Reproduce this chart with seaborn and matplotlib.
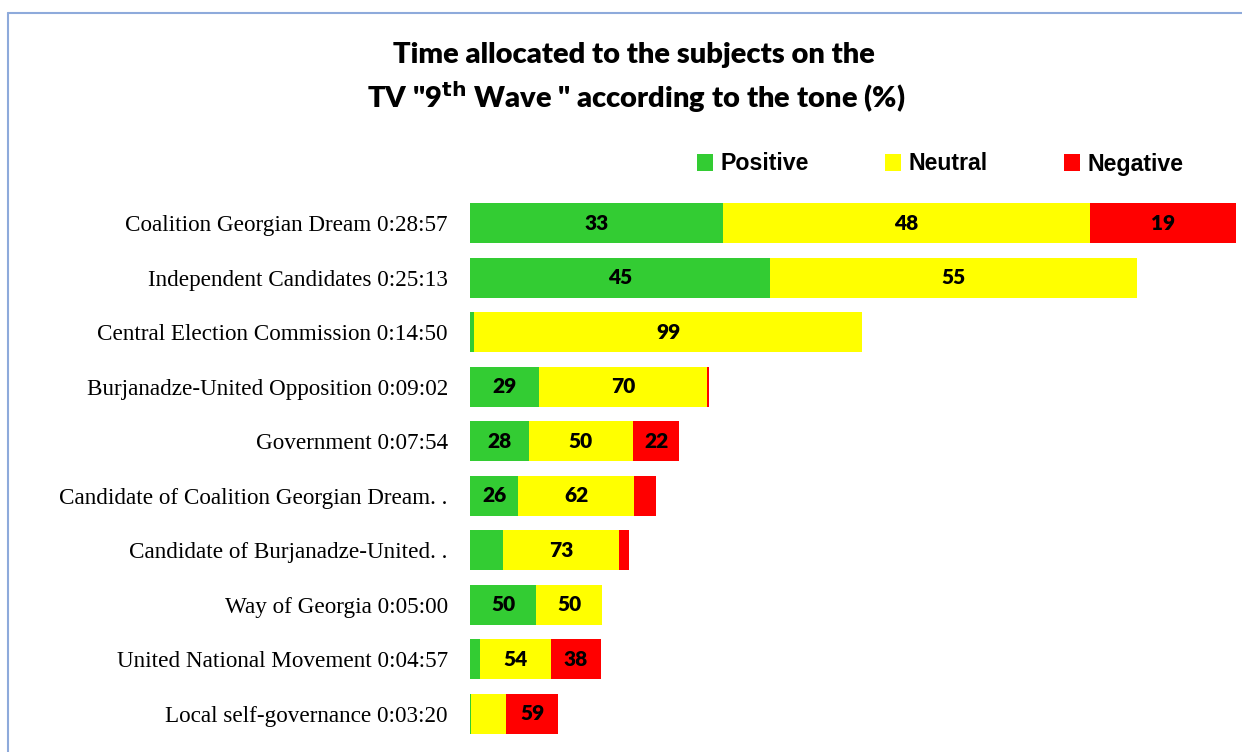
import numpy as np
import pandas as pd
import matplotlib.pyplot as plt
import seaborn as sns
from matplotlib.lines import Line2D
from matplotlib.patches import Patch

# ── Data ────────────────────────────────────────────────────────────────────

subjects = [
    'Coalition Georgian Dream 0:28:57',
    'Independent Candidates 0:25:13',
    'Central Election Commission 0:14:50',
    'Burjanadze-United Opposition 0:09:02',
    'Government 0:07:54',
    'Candidate of Coalition Georgian Dream. .',
    'Candidate of Burjanadze-United. .',
    'Way of Georgia 0:05:00',
    'United National Movement 0:04:57',
    'Local self-governance 0:03:20',
]
durations = ['0:28:57', '0:25:13', '0:14:50', '0:09:02', '0:07:54',
             '0:07:02', '0:06:00', '0:05:00', '0:04:57', '0:03:20']
positive = [33, 45, 1, 29, 28, 26, 21, 50, 8, 1]
neutral = [48, 55, 99, 70, 50, 62, 73, 50, 54, 40]
negative = [19, 0, 0, 1, 22, 12, 6, 0, 38, 59]

tones = ['Positive', 'Neutral', 'Negative']
colors = {'Positive': '#33CC33', 'Neutral': '#FFFF00', 'Negative': '#FF0000'}


def to_seconds(t):
    h, m, s = (int(x) for x in t.split(':'))
    return h * 3600 + m * 60 + s


secs = np.array([to_seconds(t) for t in durations], dtype=float)
pos_s = secs * np.array(positive) / 100
neu_s = secs * np.array(neutral) / 100
neg_s = secs * np.array(negative) / 100

df = pd.DataFrame({
    'subject': subjects,
    'cum_pos': pos_s,
    'cum_neu': pos_s + neu_s,
    'cum_neg': pos_s + neu_s + neg_s,
})

# ── Plot ────────────────────────────────────────────────────────────────────

sns.set_theme(style='white')
fig = plt.figure(figsize=(12.42, 7.52), dpi=100)
ax = fig.add_axes([470 / 1242, 1 - 741 / 752, 1 - 470 / 1242, (741 - 196) / 752])

# stacked by overdrawing cumulative totals, longest first
for col, tone in [('cum_neg', 'Negative'), ('cum_neu', 'Neutral'), ('cum_pos', 'Positive')]:
    sns.barplot(data=df, y='subject', x=col, orient='h', color=colors[tone],
                saturation=1, width=0.73, linewidth=0, ax=ax)

ax.set_xlim(0, 772 / 0.441)
ax.set_xlabel('')
ax.set_ylabel('')
ax.set_xticks([])
sns.despine(ax=ax, left=True, bottom=True)
ax.tick_params(axis='y', length=0, pad=16)
for lab in ax.get_yticklabels():
    lab.set_fontfamily('Liberation Serif')
    lab.set_fontsize(16.7)
    lab.set_color('black')

# value labels, only on segments wide enough to hold them
for i in range(len(subjects)):
    starts = [0, pos_s[i], pos_s[i] + neu_s[i]]
    widths = [pos_s[i], neu_s[i], neg_s[i]]
    vals = [positive[i], neutral[i], negative[i]]
    for x0, w, v in zip(starts, widths, vals):
        if w > 90:
            ax.text(x0 + w / 2, i, str(v), ha='center', va='center',
                    fontsize=15, fontweight='heavy', family='Lato', color='black')

# title
fig.text(634 / 1242, 1 - 55 / 752, 'Time allocated to the subjects on the',
         ha='center', va='center', fontsize=21, fontweight='heavy',
         family='Lato', color='black')
fig.text(636 / 1242, 1 - 97 / 752, 'TV "9$^{\\mathbf{th}}$ Wave " according to the tone (%)',
         ha='center', va='center', fontsize=21, fontweight='heavy',
         family='Lato', color='black')

# legend
handles = [Patch(facecolor=colors[t], edgecolor='none', label=t) for t in tones]
fig.legend(handles=handles, loc='center', bbox_to_anchor=(940 / 1242, 1 - 164 / 752),
           ncol=3, frameon=False, handlelength=0.7, handleheight=0.7,
           handletextpad=0.3, columnspacing=3.3, labelcolor='black',
           prop={'family': 'Liberation Sans', 'weight': 'bold', 'size': 16.7})

# outer frame
frame_c = '#8EAADB'
fig.add_artist(Line2D([7.5 / 1242, 7.5 / 1242], [0, 1 - 13 / 752], color=frame_c, lw=1.5))
fig.add_artist(Line2D([7.5 / 1242, 1], [1 - 13 / 752, 1 - 13 / 752], color=frame_c, lw=1.5))

plt.savefig('out.png', dpi=100)
